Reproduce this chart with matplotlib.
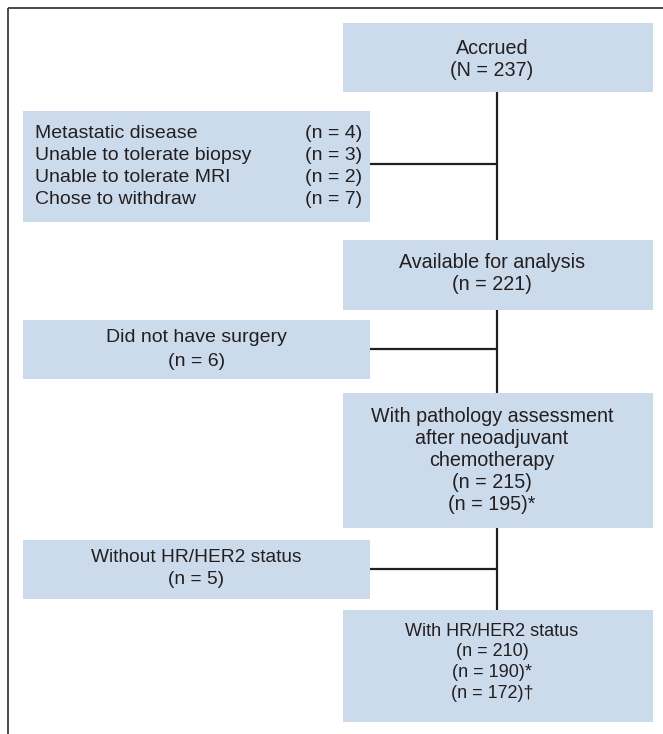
import matplotlib
matplotlib.use("Agg")
import matplotlib.pyplot as plt
from matplotlib.patches import Rectangle

# ---- data ----
main_labels = ["Accrued", "Available for analysis",
               "With pathology assessment\nafter neoadjuvant\nchemotherapy",
               "With HR/HER2 status"]
main_counts = [["(N = 237)"], ["(n = 221)"], ["(n = 215)", "(n = 195)*"],
               ["(n = 210)", "(n = 190)*", "(n = 172)\u2020"]]
excl1_reasons = ["Metastatic disease", "Unable to tolerate biopsy",
                 "Unable to tolerate MRI", "Chose to withdraw"]
excl1_counts = ["(n = 4)", "(n = 3)", "(n = 2)", "(n = 7)"]
excl2_label = "Did not have surgery"
excl2_count = "(n = 6)"
excl3_label = "Without HR/HER2 status"
excl3_count = "(n = 5)"

# ---- layout (pixel space) ----
W, H = 663, 734
fill = "#CCDBEC"
lc = "#231F20"
tc = "#231F20"

fig = plt.figure(figsize=(W / 100, H / 100), dpi=100)
ax = fig.add_axes([0, 0, 1, 1])
ax.set_xlim(0, W)
ax.set_ylim(H, 0)
ax.axis("off")

reg = ["Liberation Sans", "DejaVu Sans"]
fs = 14.0

def box(x0, y0, x1, y1):
    ax.add_patch(Rectangle((x0, y0), x1 - x0, y1 - y0, facecolor=fill,
                           edgecolor="none", zorder=3))

# border (left and top)
ax.plot([7.5, 7.5], [H, 7.5], color="#3a3a3a", lw=1.3, solid_capstyle="butt", zorder=5)
ax.plot([7.5, W], [7.5, 7.5], color="#3a3a3a", lw=1.3, solid_capstyle="butt", zorder=5)

# main column boxes
mx0, mx1 = 343, 653
cx = 497
main_boxes = [(23, 92), (240, 310), (393, 528), (610, 722)]
main_first_line = [48, 262, 417, 631]
spacing = [22, 22, 22, 20.7]
sizes = [14.2, 14.2, 14.2, 13.0]
for (y0, y1), lab, cnts, yf, sp, s in zip(main_boxes, main_labels, main_counts,
                                          main_first_line, spacing, sizes):
    box(mx0, y0, mx1, y1)
    lines = lab.split("\n") + cnts
    for i, t in enumerate(lines):
        ax.text(cx - 5, yf + i * sp, t, ha="center", va="center", fontsize=s,
                family=reg, color=tc, zorder=4)

# vertical connector
ax.plot([cx, cx], [92, 610], color=lc, lw=1.6, solid_capstyle="butt", zorder=2)

# exclusion boxes
ex0, ex1 = 23, 370
# box 1
box(ex0, 111, ex1, 222)
for i, (r, c) in enumerate(zip(excl1_reasons, excl1_counts)):
    y = 134 + i * 22
    ax.text(35, y, r, ha="left", va="center", fontsize=fs, family=reg, color=tc, zorder=4)
    ax.text(305, y, c, ha="left", va="center", fontsize=fs, family=reg, color=tc, zorder=4)
ax.plot([ex1, cx], [164, 164], color=lc, lw=1.6, solid_capstyle="butt", zorder=2)

# box 2
box(ex0, 320, ex1, 379)
ax.text((ex0 + ex1) / 2, 338, excl2_label, ha="center", va="center", fontsize=fs,
        family=reg, color=tc, zorder=4)
ax.text((ex0 + ex1) / 2, 361, excl2_count, ha="center", va="center", fontsize=fs,
        family=reg, color=tc, zorder=4)
ax.plot([ex1, cx], [349, 349], color=lc, lw=1.6, solid_capstyle="butt", zorder=2)

# box 3
box(ex0, 540, ex1, 599)
ax.text((ex0 + ex1) / 2, 557, excl3_label, ha="center", va="center", fontsize=13.8,
        family=reg, color=tc, zorder=4)
ax.text((ex0 + ex1) / 2, 580, excl3_count, ha="center", va="center", fontsize=13.8,
        family=reg, color=tc, zorder=4)
ax.plot([ex1, cx], [569, 569], color=lc, lw=1.6, solid_capstyle="butt", zorder=2)

fig.savefig("out.png", dpi=100, facecolor="white")
